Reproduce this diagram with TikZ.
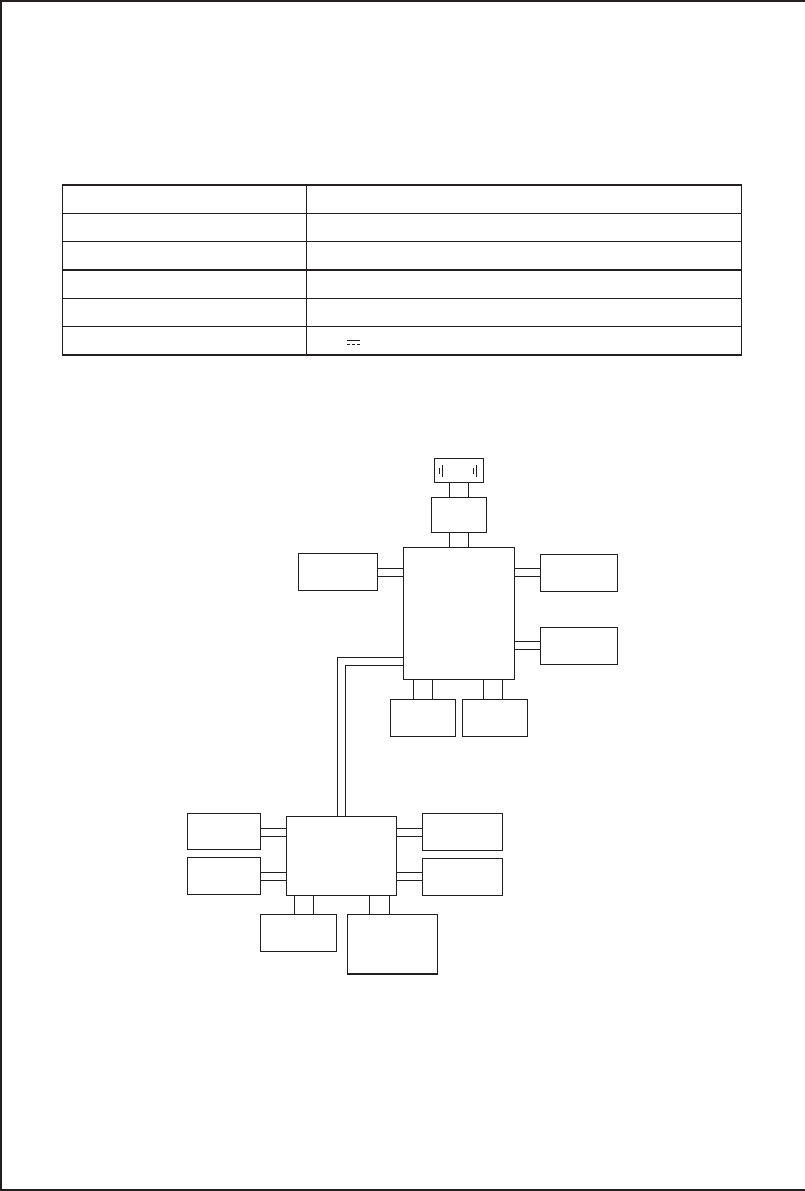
\documentclass[tikz,border=0pt]{standalone}
\usepackage{tikz}
\definecolor{ink}{HTML}{231F20}
\begin{document}
\begin{tikzpicture}[x=1pt,y=-1pt,
  bx/.style={draw=ink,line width=1.1pt,rectangle,inner sep=0pt,outer sep=0pt},
  wire/.style={draw=ink,line width=1.1pt},
  frame/.style={draw=ink,line width=1.5pt},
  tbl/.style={draw=ink,line width=1.1pt}]
\useasboundingbox (0,0) rectangle (805,1191);
% page frame
\draw[frame] (1,0) -- (1,1190.2) -- (805,1190.2);
\draw[frame] (0,1) -- (805,1);
% table
\draw[tbl] (62.5,185) rectangle (741.5,355);
\foreach \yy in {213.3,241.3,270,298.3,326.3}{\draw[tbl] (62.5,\yy) -- (741.5,\yy);}
\draw[tbl] (306.3,185) -- (306.3,355);
% DC symbol
\draw[ink,line width=0.8pt] (347,340) -- (360,340);
\draw[ink,line width=0.8pt,dash pattern=on 3.2pt off 1.7pt] (347,344) -- (360,344);
% upper group
\node[bx,minimum width=49pt,minimum height=24pt] (bat) at (458.8,470.3) {};
\draw[ink,line width=0.8pt] (439.3,467.7) -- (439.3,474.3);
\draw[ink,line width=0.8pt] (442.3,465) -- (442.3,476.7);
\draw[ink,line width=0.8pt] (473.3,467.7) -- (473.3,474.3);
\draw[ink,line width=0.8pt] (476.7,465) -- (476.7,476.7);
\node[bx,minimum width=55pt,minimum height=35pt] (top) at (458.8,514.8) {};
\node[bx,minimum width=111pt,minimum height=132pt] (main) at (458.8,613.3) {};
\node[bx,minimum width=79pt,minimum height=37pt] (L1) at (337.8,571.8) {};
\node[bx,minimum width=77pt,minimum height=37pt] (R1) at (578.8,572.8) {};
\node[bx,minimum width=77pt,minimum height=37pt] (R2) at (578.8,645.8) {};
\node[bx,minimum width=65.4pt,minimum height=37pt] (B1) at (423,717.8) {};
\node[bx,minimum width=65pt,minimum height=37pt] (B2) at (494.8,717.8) {};
\foreach \xx in {449.3,468.7}{
  \draw[wire] (\xx,0 |- bat.south) -- (\xx,0 |- top.north);
  \draw[wire] (\xx,0 |- top.south) -- (\xx,0 |- main.north);}
\foreach \yy in {568.3,576.3}{
  \draw[wire] (L1.east |- 0,\yy) -- (main.west |- 0,\yy);
  \draw[wire] (main.east |- 0,\yy) -- (R1.west |- 0,\yy);}
\foreach \yy in {641.3,649.3}{
  \draw[wire] (main.east |- 0,\yy) -- (R2.west |- 0,\yy);}
\foreach \xx in {413.3,432.3}{
  \draw[wire] (\xx,0 |- main.south) -- (\xx,0 |- B1.north);}
\foreach \xx in {483.3,502.3}{
  \draw[wire] (\xx,0 |- main.south) -- (\xx,0 |- B2.north);}
% lower group
\node[bx,minimum width=110.4pt,minimum height=79pt] (low) at (341.5,855.8) {};
\node[bx,minimum width=73pt,minimum height=36pt] (LL1) at (223.8,831.3) {};
\node[bx,minimum width=73pt,minimum height=37pt] (LL2) at (223.8,875.8) {};
\node[bx,minimum width=80pt,minimum height=37pt] (LR1) at (462.3,831.8) {};
\node[bx,minimum width=80pt,minimum height=37pt] (LR2) at (462.3,876.8) {};
\node[bx,minimum width=76pt,minimum height=37pt] (LB1) at (298.3,932.8) {};
\node[bx,minimum width=90pt,minimum height=59.7pt] (LB2) at (392.3,944.15) {};
\foreach \yy in {828.3,836.3}{
  \draw[wire] (LL1.east |- 0,\yy) -- (low.west |- 0,\yy);
  \draw[wire] (low.east |- 0,\yy) -- (LR1.west |- 0,\yy);}
\foreach \yy in {872.3,880.3}{
  \draw[wire] (LL2.east |- 0,\yy) -- (low.west |- 0,\yy);
  \draw[wire] (low.east |- 0,\yy) -- (LR2.west |- 0,\yy);}
\foreach \xx in {294.3,313.3}{
  \draw[wire] (\xx,0 |- low.south) -- (\xx,0 |- LB1.north);}
\foreach \xx in {369.3,389.3}{
  \draw[wire] (\xx,0 |- low.south) -- (\xx,0 |- LB2.north);}
% link between groups
\draw[wire] (main.west |- 0,657.3) -| (337.3,0 |- low.north);
\draw[wire] (main.west |- 0,665.3) -| (345.3,0 |- low.north);
\end{tikzpicture}
\end{document}
